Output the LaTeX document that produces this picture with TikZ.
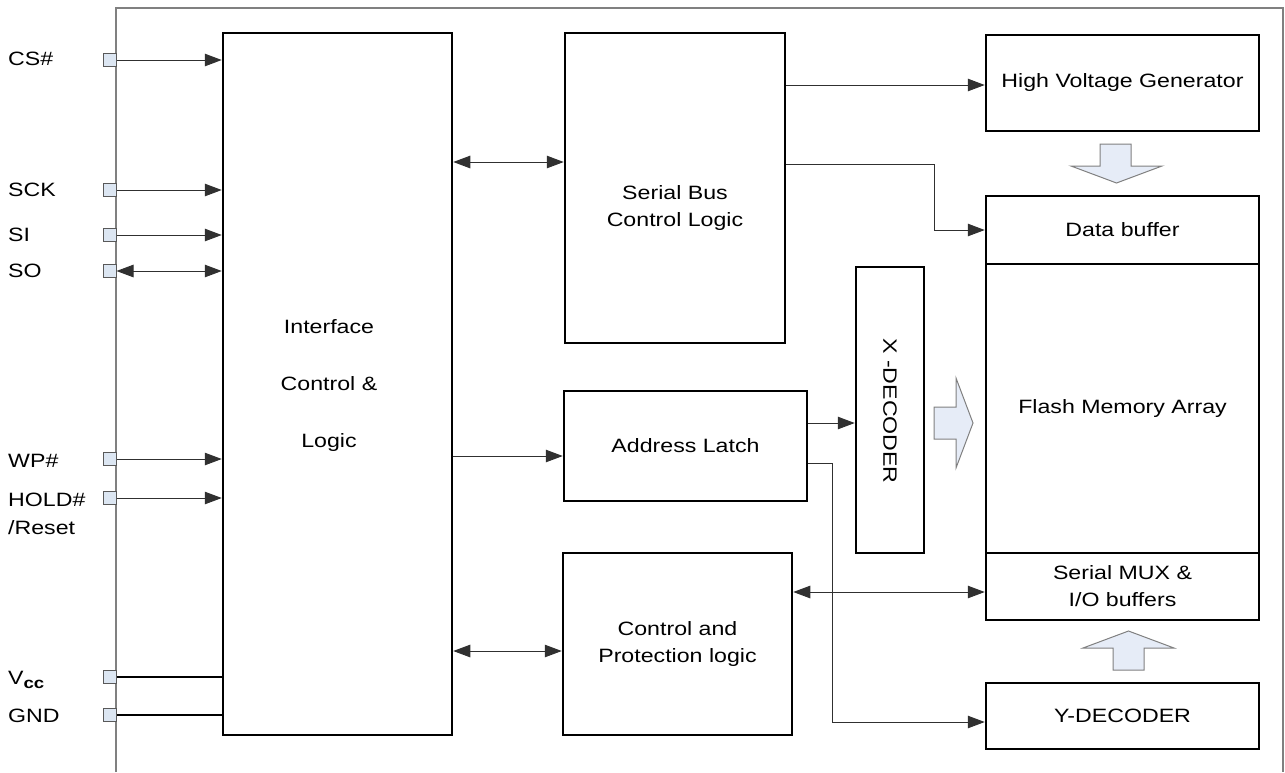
\documentclass[tikz,border=0pt]{standalone}
\usepackage{fontspec}
\setmainfont{Liberation Sans}[FakeStretch=1.2]
\usetikzlibrary{arrows.meta}

\definecolor{pinfill}{HTML}{DCE6F2}
\definecolor{fatfill}{HTML}{E6ECF7}
\definecolor{wirecol}{HTML}{303030}

\tikzset{
  every node/.style={font=\fontsize{19.3}{27}\selectfont},
  blk/.style={draw, line width=2.5pt, inner sep=0pt, align=center},
  pin/.style={draw=gray!70!black, fill=pinfill, line width=1pt, minimum size=13pt, inner sep=0pt},
  wire/.style={draw=wirecol, line width=1pt},
  sig/.style={wire, -{Triangle[length=17pt,width=12.5pt]}},
  bus/.style={wire, {Triangle[length=17pt,width=12.5pt]}-{Triangle[length=17pt,width=12.5pt]}},
  pwr/.style={line width=2.5pt},
  lbl/.style={anchor=west, inner sep=0pt, align=left},
  fat/.style={draw=gray, fill=fatfill, line width=1pt},
}

\begin{document}
\begin{tikzpicture}[x=1pt,y=-1pt]
    \useasboundingbox (0,0) rectangle (1285,772);

    % outer frame
    \draw[gray, line width=1.5pt] (116,772) -- (116,8) -- (1283,8) -- (1283,772);

    % blocks
    \node[blk, minimum width=229pt, minimum height=702pt] (ifc) at (337.5,384) {};
    \node[align=center, font=\fontsize{19.3}{57}\selectfont] (ifctxt) at (329,386) {Interface\\Control \&\\Logic};
    \node[blk, minimum width=220pt, minimum height=310pt] (sbc) at (675,188) {};
    \node[align=center] (sbctxt) at (675,208) {Serial Bus\\Control Logic};
    \node[blk, minimum width=243pt, minimum height=110pt] (alat) at (685.5,446) {Address Latch};
    \node[blk, minimum width=229pt, minimum height=182pt] (ctl) at (677.5,644) {Control and\\Protection logic};
    \node[blk, minimum width=68pt, minimum height=286pt] (xdec) at (890,410) {};
    \node[rotate=-90] (xdectxt) at (890,411) {X -DECODER};
    \node[blk, minimum width=273pt, minimum height=96pt] (hvg) at (1122.5,83) {High Voltage Generator};
    \node[blk, minimum width=273pt, minimum height=68pt] (dbuf) at (1122.5,230) {Data buffer};
    \node[blk, minimum width=273pt, minimum height=289pt] (flash) at (1122.5,408.5) {Flash Memory Array};
    \node[blk, minimum width=273pt, minimum height=67pt] (smux) at (1122.5,586.5) {Serial MUX \&\\I/O buffers};
    \node[blk, minimum width=273pt, minimum height=66pt] (ydec) at (1122.5,716) {Y-DECODER};

    % pins
    \node[pin] (pcs) at (109.5,60) {};
    \node[pin] (psck) at (109.5,190) {};
    \node[pin] (psi) at (109.5,235) {};
    \node[pin] (pso) at (109.5,271) {};
    \node[pin] (pwp) at (109.5,459) {};
    \node[pin] (phold) at (109.5,498) {};
    \node[pin] (pvcc) at (109.5,677) {};
    \node[pin] (pgnd) at (109.5,715) {};

    % pin names
    \node[lbl] (lcs) at (8,59) {CS\#};
    \node[lbl] (lsck) at (8,190) {SCK};
    \node[lbl] (lsi) at (8,235) {SI};
    \node[lbl] (lso) at (8,271) {SO};
    \node[lbl] (lwp) at (8,461) {WP\#};
    \node[lbl, font=\fontsize{19.3}{28}\selectfont] (lhold) at (8,514) {HOLD\#\\/Reset};
    \node[lbl] (lvcc) at (8,680) {V\raisebox{-0.35ex}{\fontsize{15.5}{15}\selectfont\bfseries cc}};
    \node[lbl] (lgnd) at (8,716) {GND};

    % pin connections
    \draw[sig] (pcs.east) -- (pcs -| ifc.west);
    \draw[sig] (psck.east) -- (psck -| ifc.west);
    \draw[sig] (psi.east) -- (psi -| ifc.west);
    \draw[bus] (pso.east) -- (pso -| ifc.west);
    \draw[sig] (pwp.east) -- (pwp -| ifc.west);
    \draw[sig] (phold.east) -- (phold -| ifc.west);
    \draw[pwr] (pvcc.center) -- (pvcc -| ifc.west);
    \draw[pwr] (pgnd.center) -- (pgnd -| ifc.west);
    \node[pin] at (pvcc) {};
    \node[pin] at (pgnd) {};

    % internal connections
    \coordinate (y1) at (0,162);
    \coordinate (y2) at (0,456);
    \coordinate (y3) at (0,651);
    \coordinate (y4) at (0,85);
    \coordinate (y5) at (0,423);
    \coordinate (y6) at (0,592);
    \coordinate (j1) at (934,164);
    \coordinate (j2) at (832,463);
    \draw[bus] (ifc.east |- y1) -- (sbc.west |- y1);
    \draw[sig] (ifc.east |- y2) -- (alat.west |- y2);
    \draw[bus] (ifc.east |- y3) -- (ctl.west |- y3);
    \draw[sig] (sbc.east |- y4) -- (hvg.west |- y4);
    \draw[sig] (sbc.east |- j1) -- (j1) |- (dbuf.west);
    \draw[sig] (alat.east |- y5) -- (xdec.west |- y5);
    \draw[sig] (alat.east |- j2) -- (j2) |- (0,722 -| ydec.west);
    \draw[bus] (ctl.east |- y6) -- (smux.west |- y6);

    % wide arrows
    \draw[fat] (1100,144) -- (1131,144) -- (1131,166) -- (1162,166) -- (1116.5,183) -- (1071,166) -- (1100,166) -- cycle;
    \draw[fat] (934,407) -- (956,407) -- (956,378) -- (973,423) -- (956,468) -- (956,439) -- (934,439) -- cycle;
    \draw[fat] (1113,670) -- (1144,670) -- (1144,648) -- (1174,648) -- (1128.5,631) -- (1083,648) -- (1113,648) -- cycle;
\end{tikzpicture}
\end{document}
